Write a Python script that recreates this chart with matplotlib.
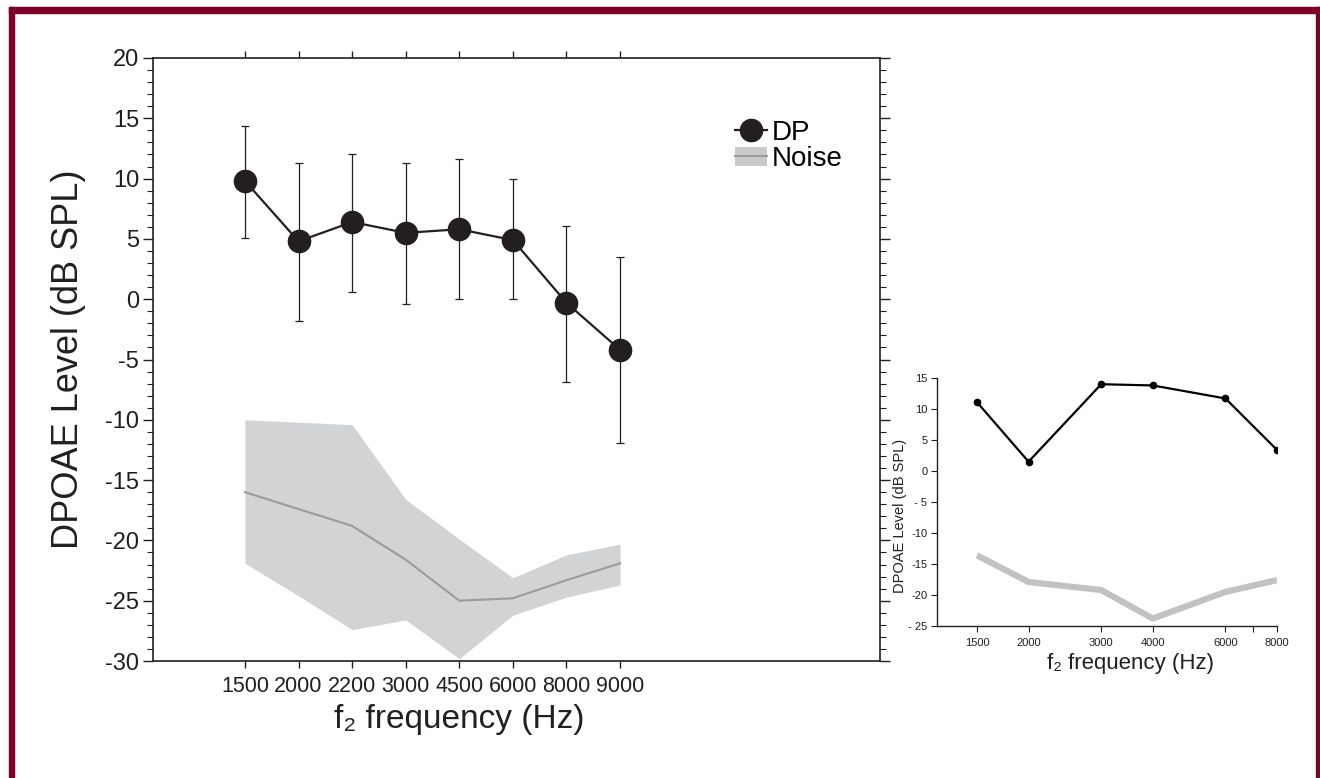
import numpy as np
import matplotlib
matplotlib.use("Agg")
import matplotlib.pyplot as plt
from matplotlib.patches import Patch, Rectangle
from matplotlib.lines import Line2D
from matplotlib.ticker import MultipleLocator, FixedLocator, NullFormatter

plt.rcParams['font.family'] = ['Liberation Sans', 'DejaVu Sans']

# ---- main panel: group DPOAE data ----
freqs      = ["1500", "2000", "2200", "3000", "4500", "6000", "8000", "9000"]
dp_mean    = [9.8, 4.8, 6.4, 5.5, 5.8, 4.9, -0.3, -4.2]
dp_upper   = [14.4, 11.3, 12.0, 11.3, 11.6, 10.0, 6.1, 3.5]
dp_lower   = [5.1, -1.8, 0.6, -0.4, 0.0, 0.0, -6.9, -11.9]
noise_mean = [-16.0, -17.4, -18.8, -21.6, -25.0, -24.8, -23.3, -21.9]
noise_hi   = [-10.0, -10.2, -10.4, -16.6, -19.9, -23.1, -21.2, -20.3]
noise_lo   = [-21.9, -24.6, -27.4, -26.6, -29.8, -26.2, -24.7, -23.7]

# ---- inset: single ear ----
ins_freqs = [1500, 2000, 3000, 4000, 6000, 8000]
ins_dp    = [11.1, 1.5, 14.0, 13.8, 11.7, 3.4]
ins_noise = [-13.6, -17.9, -19.2, -23.8, -19.5, -17.6]
ins_yticks  = [15, 10, 5, 0, -5, -10, -15, -20, -25]
ins_ylabels = ["15", "10", "5", "0", "- 5", "-10", "-15", "-20", "- 25"]

dark = '#231f20'
band = '#d1d3d4'
noise_line = '#9b9b9b'
frame = '#80002a'

fig = plt.figure(figsize=(13.2, 7.78), dpi=100)

# dark red frame (left, top, right)
fig.patches.append(Rectangle((9/1320, 0), 5/1320, 1 - 7/778, transform=fig.transFigure,
                             color=frame, zorder=0))
fig.patches.append(Rectangle((9/1320, 1 - 13/778), 1 - 9/1320, 6/778, transform=fig.transFigure,
                             color=frame, zorder=0))
fig.patches.append(Rectangle((1316/1320, 0), 4/1320, 1 - 7/778, transform=fig.transFigure,
                             color=frame, zorder=0))

# ============================================================
# Main axes
# ============================================================
ax = fig.add_axes([153/1320, 1 - 661/778, 727/1320, 603/778])
x = np.arange(len(freqs))

ax.fill_between(x, noise_lo, noise_hi, color=band, linewidth=0, zorder=1)
ax.plot(x, noise_mean, color=noise_line, linewidth=1.5, zorder=2)

m = np.array(dp_mean)
yerr = [m - np.array(dp_lower), np.array(dp_upper) - m]
ax.errorbar(x, dp_mean, yerr=yerr, fmt='none', ecolor=dark, elinewidth=0.9,
            capsize=3, capthick=0.9, zorder=3)
ax.plot(x, dp_mean, color=dark, linewidth=1.6, marker='o', markersize=16,
        markerfacecolor=dark, markeredgecolor=dark, zorder=4)

ax.set_xlim(-1.716, 11.85)
ax.set_ylim(-30, 20)
ax.set_xticks(x)
ax.set_xticklabels(freqs, fontsize=15.5)
ax.yaxis.set_major_locator(MultipleLocator(5))
ax.yaxis.set_minor_locator(MultipleLocator(1))
ax.set_yticklabels([f"{int(v)}" for v in ax.get_yticks()])
ax.tick_params(axis='y', which='major', direction='out', length=7, width=1,
               labelsize=17, colors=dark, right=True, pad=3)
ax.tick_params(axis='y', which='minor', direction='out', length=4, width=0.8,
               right=True, colors=dark)
ax.tick_params(axis='x', which='major', direction='out', length=5, width=1,
               colors=dark, top=True, pad=6)
for s in ax.spines.values():
    s.set_color(dark)
    s.set_linewidth(1.2)

ax.set_ylabel("DPOAE Level (dB SPL)", fontsize=26, color=dark, labelpad=14)
ax.set_xlabel("f\u2082 frequency (Hz)", fontsize=24, color=dark, labelpad=5)
ax.xaxis.label.set_x(0.421)

dp_handle = Line2D([], [], color=dark, linewidth=1.6, marker='o', markersize=16)
noise_handle = (Patch(facecolor='#c8c9ca', edgecolor='none'),
                Line2D([], [], color=noise_line, linewidth=1.5))
ax.legend([dp_handle, noise_handle], ["DP", "Noise"], loc='upper left',
          bbox_to_anchor=(0.80, 0.897), frameon=False, fontsize=20,
          handlelength=1.15, handletextpad=0.2, labelspacing=0.0,
          borderpad=0, borderaxespad=0)

# ============================================================
# Inset axes
# ============================================================
ins = fig.add_axes([937/1320, 1 - 626/778, 340/1320, 248/778])
ins.plot(ins_freqs, ins_noise, color='#c2c2c2', linewidth=4.5, solid_capstyle='butt', zorder=1)
ins.plot(ins_freqs, ins_dp, color='black', linewidth=1.6, marker='o', markersize=4.5, zorder=2)
ins.set_xscale('log')
ins.set_xlim(1200, 8000)
ins.set_ylim(-25, 15)
ins.xaxis.set_major_locator(FixedLocator(ins_freqs))
ins.xaxis.set_minor_locator(FixedLocator([7000]))
ins.xaxis.set_minor_formatter(NullFormatter())
ins.set_xticklabels([str(f) for f in ins_freqs])
ins.set_yticks(ins_yticks)
ins.set_yticklabels(ins_ylabels)
ins.tick_params(axis='both', which='both', direction='out', length=4, width=0.8,
                labelsize=8, colors=dark, pad=3)
ins.tick_params(axis='x', which='major', pad=5)
ins.spines['top'].set_visible(False)
ins.spines['right'].set_visible(False)
for s in ['left', 'bottom']:
    ins.spines[s].set_color(dark)
    ins.spines[s].set_linewidth(1)
ins.set_ylabel("DPOAE Level (dB SPL)", fontsize=10.5, color=dark, labelpad=0.5)
ins.yaxis.label.set_y(0.444)
ins.set_xlabel("f\u2082 frequency (Hz)", fontsize=16, color=dark, labelpad=3)
ins.xaxis.label.set_x(0.568)

fig.savefig("out.png", dpi=100)
